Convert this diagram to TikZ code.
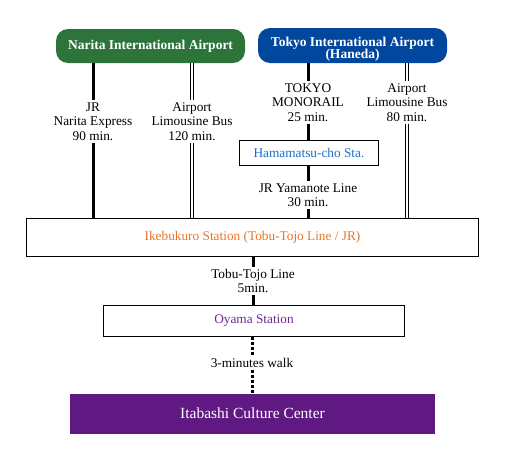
\documentclass[tikz,border=0pt]{standalone}
\usepackage{fontspec}
\setmainfont{Liberation Serif}
\usetikzlibrary{positioning}
\definecolor{naritagreen}{RGB}{44,116,58}
\definecolor{hanedablue}{RGB}{0,71,157}
\definecolor{centerpurple}{RGB}{96,24,130}
\definecolor{ikeorange}{RGB}{232,118,40}
\definecolor{hamablue}{RGB}{30,110,200}
\definecolor{oyamapurple}{RGB}{110,40,145}

\begin{document}
\begin{tikzpicture}[x=1pt,y=-1pt,
  every node/.style={font=\fontsize{13.3}{14.5}\selectfont},
  airport/.style={rounded corners=12pt,text=white,align=center,
    font=\fontsize{13.5}{12.5}\selectfont\bfseries},
  station/.style={draw,line width=1.6pt,fill=white},
  route/.style={align=center,inner sep=2pt},
  rail/.style={line width=3pt},
  bus/.style={double,double distance=2.4pt,line width=1pt},
  walkline/.style={line width=3pt,dash pattern=on 3pt off 2pt}]
\useasboundingbox (0,0) rectangle (506,461);

% airports
\node [airport,fill=naritagreen,minimum width=189pt,minimum height=34pt] (narita) at (150.5,46) {Narita International Airport};
\node [airport,fill=hanedablue,minimum width=189pt,minimum height=35pt,inner ysep=0pt] (haneda) at (352.5,45.5) {\rule{0pt}{17pt}Tokyo International Airport\\(Haneda)};

% stations
\node [station,text=hamablue,minimum width=139pt,minimum height=25pt] (hamamatsu) at (309,153) {Hamamatsu-cho Sta.};
\node [station,text=ikeorange,minimum width=452pt,minimum height=38pt] (ikebukuro) at (252.5,237.5) {Ikebukuro Station (Tobu-Tojo Line / JR)};
\node [station,text=oyamapurple,minimum width=301pt,minimum height=31pt] (oyama) at (254,321) {Oyama Station};
\node [fill=centerpurple,text=white,minimum width=365pt,minimum height=40pt,font=\fontsize{15.5}{17}\selectfont] (itabashi) at (252.5,413.5) {Itabashi Culture Center};

% routes
\node [route] (jr) at (93,121.5) {JR\\Narita Express\\90 min.};
\node [route] (limoN) at (192,121.5) {Airport\\Limousine Bus\\120 min.};
\node [route] (monorail) at (308,102.5) {TOKYO\\MONORAIL\\25 min.};
\node [route] (limoH) at (407,102.5) {Airport\\Limousine Bus\\80 min.};
\node [route] (yamanote) at (308,195) {JR Yamanote Line\\30 min.};
\node [route] (tobu) at (253,281) {Tobu-Tojo Line\\5min.};
\node [route] (walk) at (252,363) {3-minutes walk};

\draw [rail] (narita.south -| jr.north) -- (jr.north);
\draw [rail] (jr.south) -- (ikebukuro.north -| jr.south);
\draw [bus] (narita.south -| limoN.north) -- (limoN.north);
\draw [bus] (limoN.south) -- (ikebukuro.north -| limoN.south);
\draw [rail] (haneda.south -| monorail.north) -- (monorail.north);
\draw [rail] (monorail.south) -- (hamamatsu.north -| monorail.south);
\draw [rail] (hamamatsu.south -| yamanote.north) -- (yamanote.north);
\draw [rail] (yamanote.south) -- (ikebukuro.north -| yamanote.south);
\draw [bus] (haneda.south -| limoH.north) -- (limoH.north);
\draw [bus] (limoH.south) -- (ikebukuro.north -| limoH.south);
\draw [rail] (ikebukuro.south -| tobu.north) -- (tobu.north);
\draw [rail] (tobu.south) -- (oyama.north -| tobu.south);
\draw [walkline] (oyama.south -| walk.north) -- (walk.north);
\draw [walkline] (walk.south) -- (itabashi.north -| walk.south);
\end{tikzpicture}
\end{document}
